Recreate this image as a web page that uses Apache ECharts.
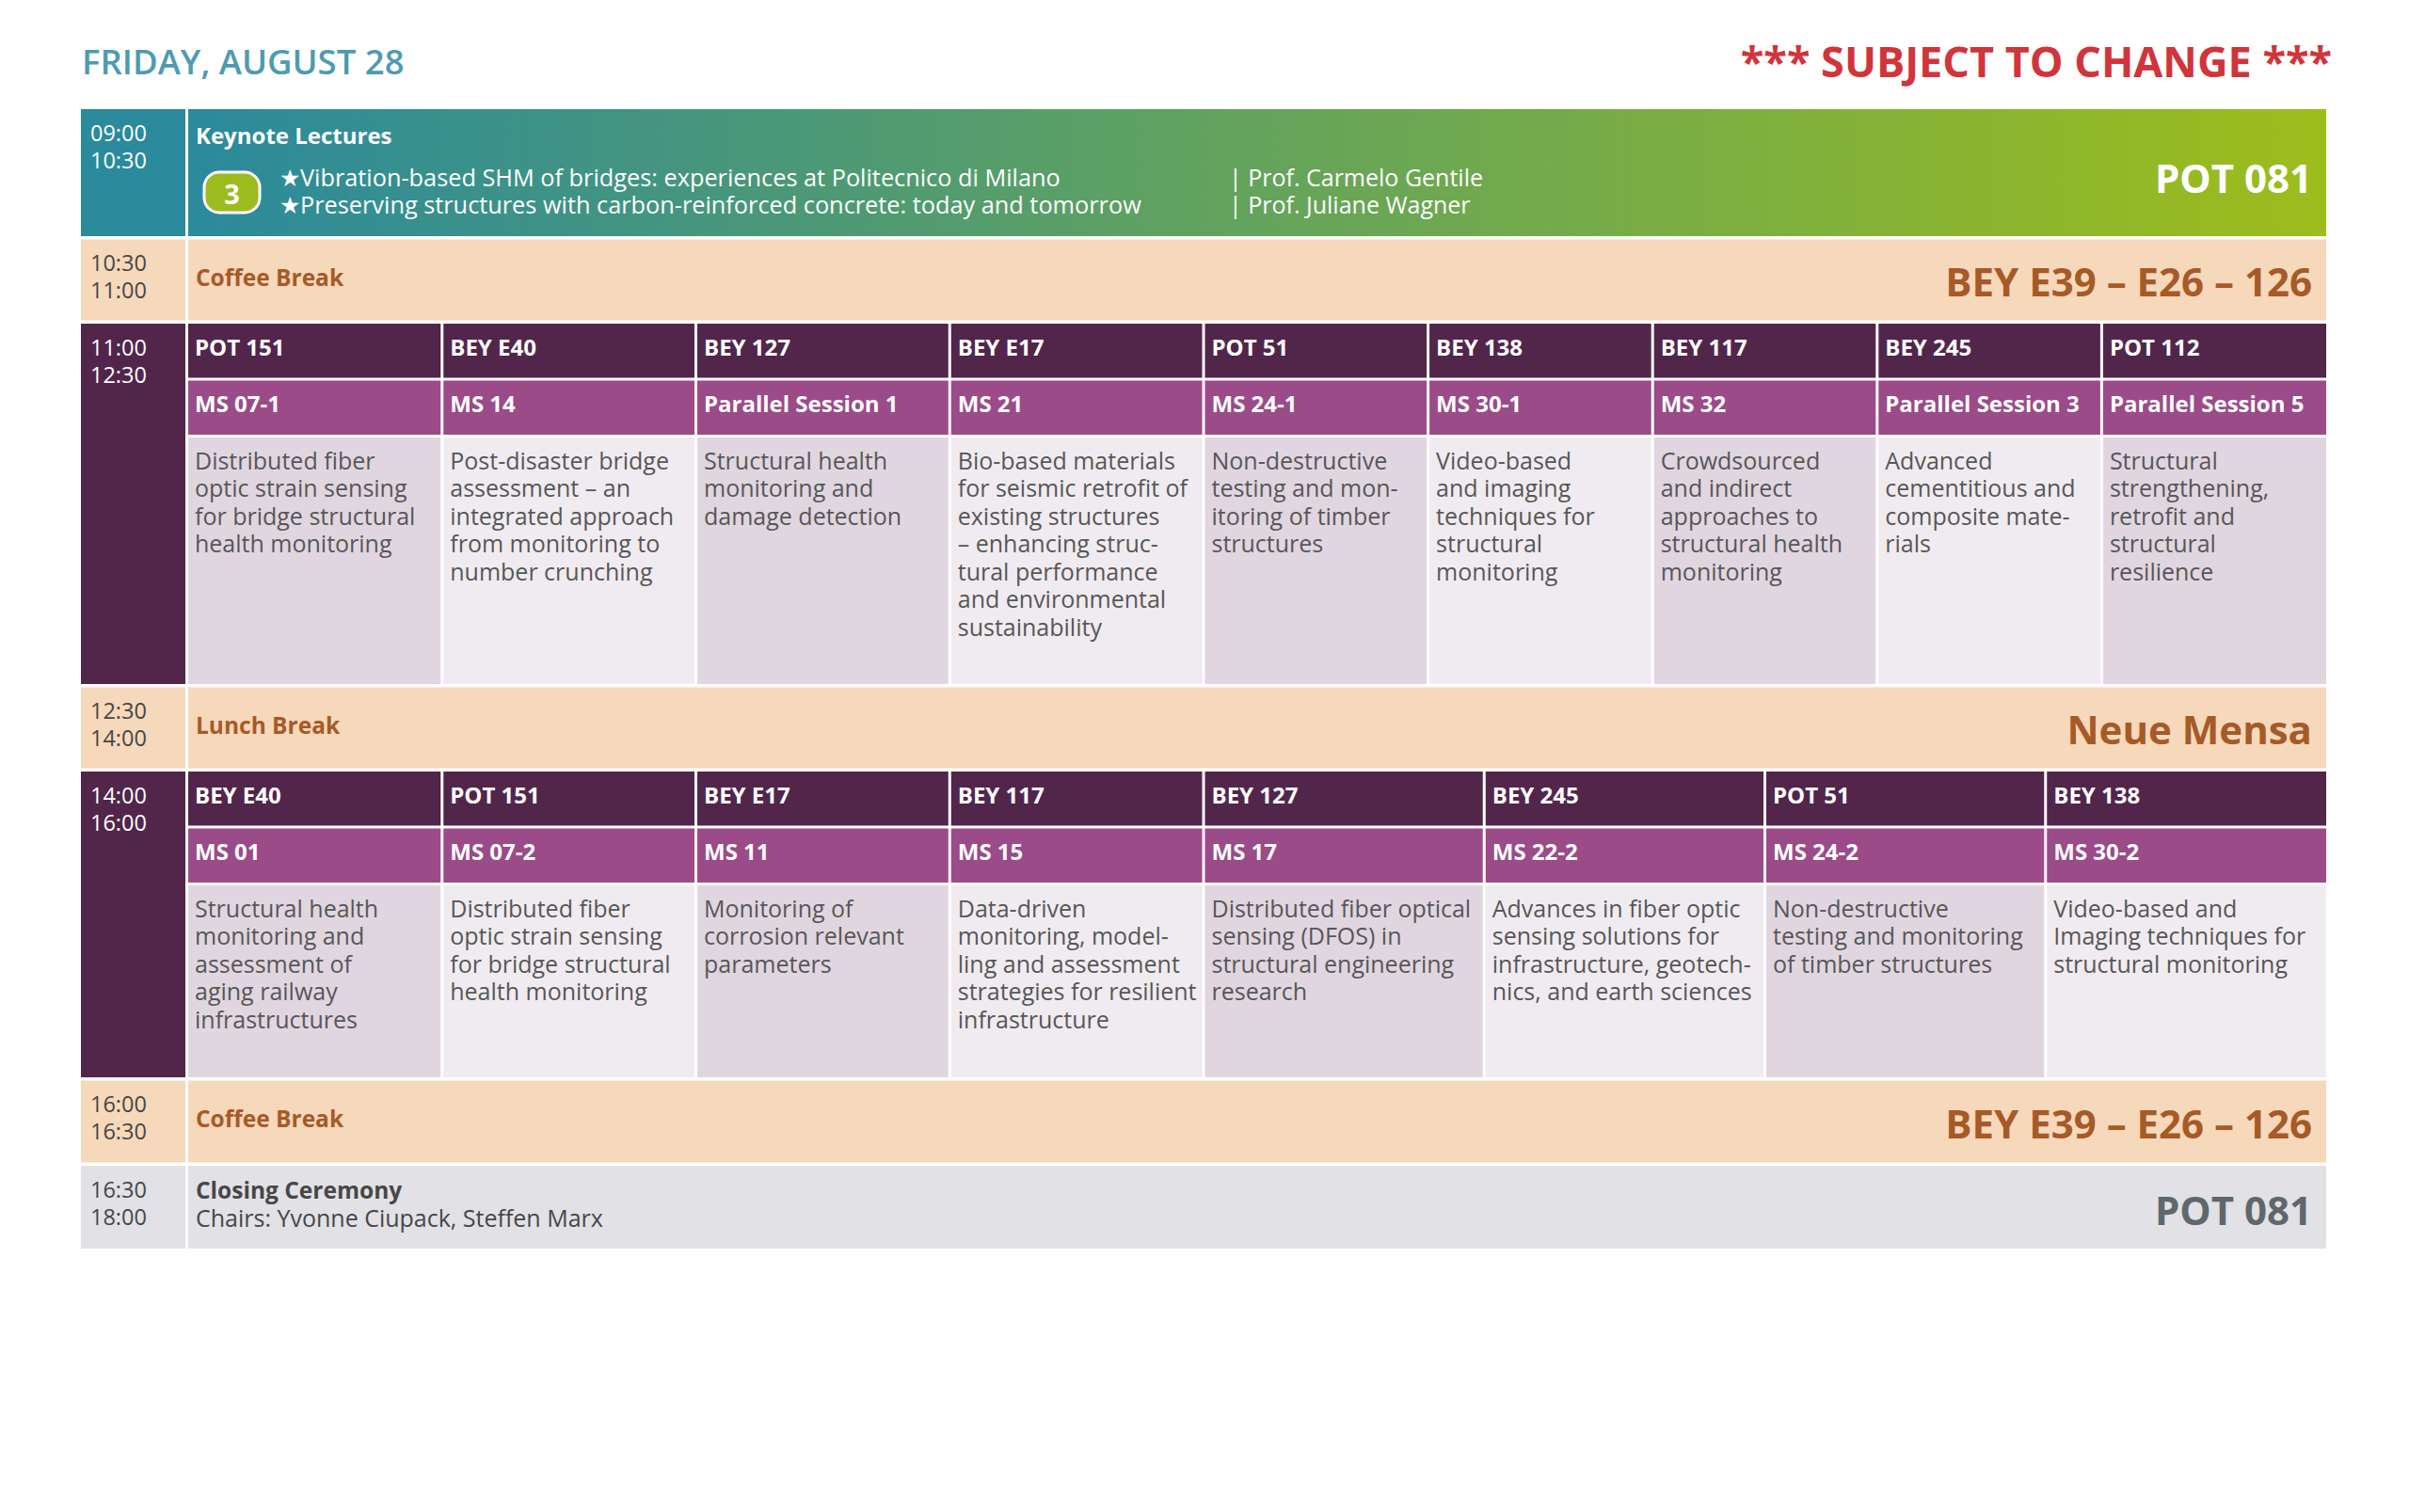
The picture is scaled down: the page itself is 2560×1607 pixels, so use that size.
<!DOCTYPE html>
<html>
<head>
<meta charset="utf-8">
<script src="https://cdn.jsdelivr.net/npm/echarts@6/dist/echarts.min.js"></script>
<style>
html,body{margin:0;padding:0;background:#fff;}
#chart{width:2560px;height:1607px;}
</style>
</head>
<body>
<div id="chart"></div>
<script>
// ---------------- DATA ----------------
const dayTitle = "FRIDAY, AUGUST 28";
const noticeText = "*** SUBJECT TO CHANGE ***";

const timeSlots = [
  ["09:00", "10:30"],
  ["10:30", "11:00"],
  ["11:00", "12:30"],
  ["12:30", "14:00"],
  ["14:00", "16:00"],
  ["16:00", "16:30"],
  ["16:30", "18:00"]
];
const rowKinds = ["keynote", "break", "parallel", "break", "parallel", "break", "closing"];

const keynoteTitle = "Keynote Lectures";
const keynoteBadge = "3";
const keynoteTalks = [
  "Vibration-based SHM of bridges: experiences at Politecnico di Milano",
  "Preserving structures with carbon-reinforced concrete: today and tomorrow"
];
const keynoteSpeakers = ["Prof. Carmelo Gentile", "Prof. Juliane Wagner"];
const keynoteRoom = "POT 081";

const breakLabels = ["Coffee Break", "Lunch Break", "Coffee Break"];
const breakRooms = ["BEY E39 – E26 – 126", "Neue Mensa", "BEY E39 – E26 – 126"];

const morningRooms = ["POT 151", "BEY E40", "BEY 127", "BEY E17", "POT 51", "BEY 138", "BEY 117", "BEY 245", "POT 112"];
const morningSessions = ["MS 07-1", "MS 14", "Parallel Session 1", "MS 21", "MS 24-1", "MS 30-1", "MS 32", "Parallel Session 3", "Parallel Session 5"];
const morningTopics = [
  "Distributed fiber\noptic strain sensing\nfor bridge structural\nhealth monitoring",
  "Post-disaster bridge\nassessment – an\nintegrated approach\nfrom monitoring to\nnumber crunching",
  "Structural health\nmonitoring and\ndamage detection",
  "Bio-based materials\nfor seismic retrofit of\nexisting structures\n– enhancing struc-\ntural performance\nand environmental\nsustainability",
  "Non-destructive\ntesting and mon-\nitoring of timber\nstructures",
  "Video-based\nand imaging\ntechniques for\nstructural\nmonitoring",
  "Crowdsourced\nand indirect\napproaches to\nstructural health\nmonitoring",
  "Advanced\ncementitious and\ncomposite mate-\nrials",
  "Structural\nstrengthening,\nretrofit and\nstructural\nresilience"
];

const afternoonRooms = ["BEY E40", "POT 151", "BEY E17", "BEY 117", "BEY 127", "BEY 245", "POT 51", "BEY 138"];
const afternoonSessions = ["MS 01", "MS 07-2", "MS 11", "MS 15", "MS 17", "MS 22-2", "MS 24-2", "MS 30-2"];
const afternoonTopics = [
  "Structural health\nmonitoring and\nassessment of\naging railway\ninfrastructures",
  "Distributed fiber\noptic strain sensing\nfor bridge structural\nhealth monitoring",
  "Monitoring of\ncorrosion relevant\nparameters",
  "Data-driven\nmonitoring, model-\nling and assessment\nstrategies for resilient\ninfrastructure",
  "Distributed fiber optical\nsensing (DFOS) in\nstructural engineering\nresearch",
  "Advances in fiber optic\nsensing solutions for\ninfrastructure, geotech-\nnics, and earth sciences",
  "Non-destructive\ntesting and monitoring\nof timber structures",
  "Video-based and\nImaging techniques for\nstructural monitoring"
];

const closingTitle = "Closing Ceremony";
const closingChairs = "Chairs: Yvonne Ciupack, Steffen Marx";
const closingRoom = "POT 081";

// ---------------- LAYOUT & STYLE ----------------
const L = {
  left: 86, top: 116, width: 2386, height: 1211,
  timeW: 111, colGap: 3, rowGap: 3.5,
  rowH: [135, 86, 383, 86, 325, 87, 88],
  headH: 57.5, innerGap: 3,
  wideW: 269.75, wideCount: 4,
  pad: 8, lineH: 29.5, roomRight: 15
};
const C = {
  teal: '#2b8a9c', lime: '#9dbd1c', peach: '#f6d8bb', peachText: '#a65a27',
  plum: '#52264a', violet: '#9a4b88', cellDark: '#e0d6e0', cellLight: '#f0ebf0',
  grey: '#e1e1e6', greyText: '#60676c', body: '#575757', time: '#474747'
};
const FONT = '"Open Sans", "Noto Sans", sans-serif';

// ---------------- BUILD CELLS ----------------
const bodyX = L.timeW + L.colGap;
const bodyW = L.width - bodyX;
function colBounds(n) {
  const b = [];
  for (let i = 0; i <= L.wideCount; i++) b.push(i * L.wideW);
  const rest = bodyW - L.wideCount * L.wideW;
  for (let i = 1; i <= n - L.wideCount; i++) b.push(L.wideCount * L.wideW + rest * i / (n - L.wideCount));
  return b.map(v => v + bodyX);
}
function txt(text, o) { return Object.assign({ text: text }, o); }

const cells = [];
let yCursor = 0;
let breakIdx = 0, parIdx = 0;
timeSlots.forEach((slot, r) => {
  const kind = rowKinds[r];
  const h = L.rowH[r];
  const y0 = yCursor, y1 = yCursor + h;
  const timeFill = kind === 'keynote' ? C.teal : kind === 'break' ? C.peach : kind === 'parallel' ? C.plum : C.grey;
  const timeColor = (kind === 'keynote' || kind === 'parallel') ? '#ffffff' : C.time;
  cells.push({ x0: 0, x1: L.timeW, y0, y1, fill: timeFill,
    texts: [txt(slot.join('\n'), { dx: 10, dy: 10, color: timeColor, size: 23.5, weight: 400, lh: 29 })] });

  if (kind === 'keynote') {
    cells.push({ x0: bodyX, x1: L.width, y0, y1,
      fill: new echarts.graphic.LinearGradient(0, 0, 1, 0, [{ offset: 0, color: C.teal }, { offset: 1, color: C.lime }]),
      badge: { text: keynoteBadge, dx: 17, dy: 67, w: 59, h: 43 },
      texts: [
        txt(keynoteTitle, { dx: L.pad, dy: 27, va: 'middle', color: '#fff', size: 24, weight: 700 }),
        txt(keynoteTalks.map(t => '\u2605' + t).join('\n'), { dx: 97, dy: 57, color: '#fff', size: 25.3, weight: 400, lh: 29 }),
        txt(keynoteSpeakers.map(t => '| ' + t).join('\n'), { dx: 1106, dy: 57, color: '#fff', size: 25, weight: 400, lh: 29 }),
        txt(keynoteRoom, { right: L.roomRight, dy: 72, va: 'middle', align: 'right', color: '#fff', size: 42, weight: 700 })
      ] });
  } else if (kind === 'break') {
    cells.push({ x0: bodyX, x1: L.width, y0, y1, fill: C.peach,
      texts: [
        txt(breakLabels[breakIdx], { dx: L.pad, dy: 40, va: 'middle', color: C.peachText, size: 24.5, weight: 700 }),
        txt(breakRooms[breakIdx], { right: L.roomRight, dy: h / 2 + 1, va: 'middle', align: 'right', color: C.peachText, size: 42, weight: 700 })
      ] });
    breakIdx++;
  } else if (kind === 'parallel') {
    const rooms = parIdx === 0 ? morningRooms : afternoonRooms;
    const sessions = parIdx === 0 ? morningSessions : afternoonSessions;
    const topics = parIdx === 0 ? morningTopics : afternoonTopics;
    const b = colBounds(rooms.length);
    const hy1 = y0 + L.headH, sy0 = hy1 + L.innerGap, sy1 = sy0 + L.headH, cy0 = sy1 + L.innerGap;
    rooms.forEach((room, i) => {
      const xa = b[i] + (i > 0 ? L.colGap / 2 : 0);
      const xb = b[i + 1] - (i < rooms.length - 1 ? L.colGap / 2 : 0);
      cells.push({ x0: xa, x1: xb, y0: y0, y1: hy1, fill: C.plum,
        texts: [txt(room, { dx: L.pad - 1, dy: L.headH / 2 - 4.5, va: 'middle', color: '#fff', size: 24, weight: 700 })] });
      cells.push({ x0: xa, x1: xb, y0: sy0, y1: sy1, fill: C.violet,
        texts: [txt(sessions[i], { dx: L.pad - 1, dy: L.headH / 2 - 4.5, va: 'middle', color: '#fff', size: 24, weight: 700 })] });
      cells.push({ x0: xa, x1: xb, y0: cy0, y1: y1, fill: i % 2 === 0 ? C.cellDark : C.cellLight,
        texts: [txt(topics[i], { dx: L.pad - 1, dy: 9, color: C.body, size: 25, weight: 400, lh: L.lineH })] });
    });
    parIdx++;
  } else {
    cells.push({ x0: bodyX, x1: L.width, y0, y1, fill: C.grey,
      texts: [
        txt(closingTitle, { dx: L.pad, dy: 25, va: 'middle', color: C.time, size: 24.5, weight: 700 }),
        txt(closingChairs, { dx: L.pad, dy: 55, va: 'middle', color: C.time, size: 25, weight: 400 }),
        txt(closingRoom, { right: L.roomRight, dy: h / 2 + 2, va: 'middle', align: 'right', color: C.greyText, size: 42, weight: 700 })
      ] });
  }
  yCursor = y1 + L.rowGap;
});

// ---------------- CHART ----------------
function renderItem(params, api) {
  const c = cells[params.dataIndex];
  const p0 = api.coord([api.value(0), api.value(1)]);
  const p1 = api.coord([api.value(2), api.value(3)]);
  const x = p0[0], y = p0[1], w = p1[0] - p0[0], h = p1[1] - p0[1];
  const children = [{ type: 'rect', shape: { x, y, width: w, height: h }, style: { fill: c.fill } }];
  if (c.badge) {
    const bd = c.badge;
    children.push({ type: 'rect', shape: { x: x + bd.dx, y: y + bd.dy, width: bd.w, height: bd.h, r: 16 },
      style: { fill: '#9cbb1e', stroke: '#ffffff', lineWidth: 3 } });
    children.push({ type: 'text', x: x + bd.dx + bd.w / 2, y: y + bd.dy + bd.h / 2 + 1,
      style: { text: bd.text, fill: '#fff', font: '700 29px ' + FONT, align: 'center', verticalAlign: 'middle' } });
  }
  c.texts.forEach(t => {
    const style = {
      text: t.text, fill: t.color,
      fontSize: t.size, fontWeight: t.weight, fontFamily: FONT,
      align: t.align || 'left', verticalAlign: t.va || 'top'
    };
    if (t.lh) style.lineHeight = t.lh;
    children.push({ type: 'text', x: t.right != null ? x + w - t.right : x + t.dx, y: y + t.dy, style });
  });
  return { type: 'group', children };
}

const chart = echarts.init(document.getElementById('chart'), null, { renderer: 'svg', width: 2560, height: 1607 });
chart.setOption({
  backgroundColor: '#ffffff',
  animation: false,
  title: [
    { text: dayTitle, left: 87, top: 46, padding: 0,
      textStyle: { fontFamily: FONT, fontSize: 36.5, fontWeight: 600, color: '#4d9bb1' } },
    { text: noticeText, right: 82, top: 42, padding: 0,
      textStyle: { fontFamily: FONT, fontSize: 45, fontWeight: 700, color: '#d1343a' } }
  ],
  grid: { left: L.left, top: L.top, width: L.width, height: L.height, show: false },
  xAxis: { type: 'value', min: 0, max: L.width, show: false },
  yAxis: { type: 'value', min: 0, max: L.height, inverse: true, show: false },
  series: [{
    type: 'custom',
    renderItem: renderItem,
    clip: false,
    silent: true,
    data: cells.map(c => [c.x0, c.y0, c.x1, c.y1])
  }]
});
</script>
</body>
</html>
